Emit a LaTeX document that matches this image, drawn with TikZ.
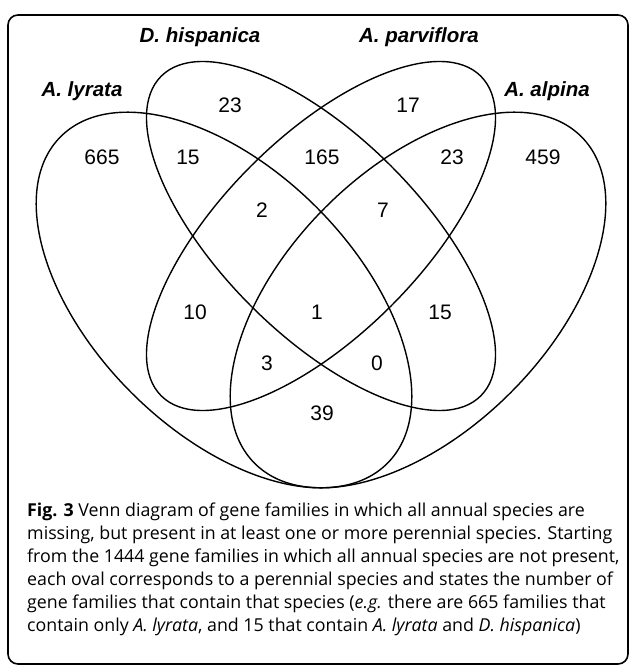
\documentclass[tikz,border=0pt]{standalone}
\usepackage{fontspec}
\setmainfont{Open Sans}
\newfontfamily\arialfont{Liberation Sans}

\begin{document}
\begin{tikzpicture}[x=1pt,y=-1pt,
    oval/.style={line width=1.4pt},
    species/.style={font=\arialfont\bfseries\itshape\fontsize{20.5}{24}\selectfont, anchor=base, inner sep=0pt},
    tally/.style={font=\arialfont\fontsize{21}{24}\selectfont, inner sep=0pt},
    caption/.style={font=\fontsize{17.8}{23}\selectfont, align=left, anchor=north west, inner sep=0pt}]
    \useasboundingbox (0,0) rectangle (630,668);
    \draw[line width=1.6pt, rounded corners=10pt] (8,15) rectangle (628,664);

    % the four ovals
    \foreach \cx/\cy/\a/\b/\r in {224/300/231/131/-45, 321/236/226/99/-45, 321/236/226/99/45, 418/300/231/131/45} {
        \draw[oval, rotate around={\r:(\cx,\cy)}] (\cx,\cy) ellipse [x radius=\a, y radius=\b];
    }

    \node[species] (lyr) at (82,97) {A. lyrata};
    \node[species] (his) at (200,43) {D. hispanica};
    \node[species] (par) at (419,43) {A. parviflora};
    \node[species] (alp) at (547,97) {A. alpina};

    % counts of each region
    \foreach \x/\y/\n [count=\k] in {102/157/665, 188/157/15, 230/105/23, 322/157/165, 408/105/17, 452/157/23, 543/157/459,
        262/210/2, 383/210/7, 195/312/10, 317/312/1, 440/312/15, 267/363/3, 377/363/0, 322/413/39} {
        \node[tally] (r\k) at (\x,\y) {\n};
    }

    \node[caption] (cap) at (27,503) {\textbf{Fig. 3} Venn diagram of gene families in which all annual species are\\
        missing, but present in at least one or more perennial species. Starting\\
        from the 1444 gene families in which all annual species are not present,\\
        each oval corresponds to a perennial species and states the number of\\
        gene families that contain that species (\textit{e.g.} there are 665 families that\\
        contain only \textit{A. lyrata}, and 15 that contain \textit{A. lyrata} and \textit{D. hispanica})};
\end{tikzpicture}
\end{document}
